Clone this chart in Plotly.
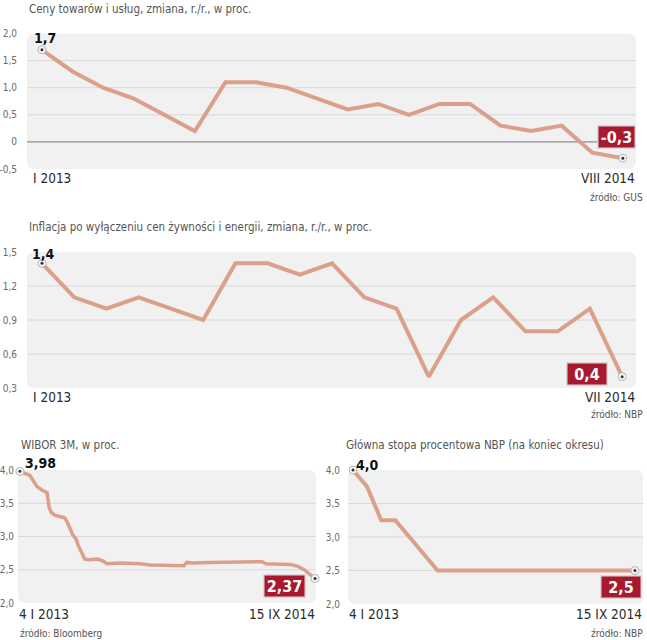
import plotly.graph_objects as go

# ---------------- data ----------------
cpi_months = ["I 2013", "II 2013", "III 2013", "IV 2013", "V 2013", "VI 2013", "VII 2013",
              "VIII 2013", "IX 2013", "X 2013", "XI 2013", "XII 2013", "I 2014", "II 2014",
              "III 2014", "IV 2014", "V 2014", "VI 2014", "VII 2014", "VIII 2014"]
cpi_values = [1.7, 1.3, 1.0, 0.8, 0.5, 0.2, 1.1, 1.1, 1.0, 0.8, 0.6, 0.7, 0.5, 0.7,
              0.7, 0.3, 0.2, 0.3, -0.2, -0.3]

core_months = cpi_months[:19]
core_values = [1.4, 1.1, 1.0, 1.1, 1.0, 0.9, 1.4, 1.4, 1.3, 1.4, 1.1, 1.0, 0.4, 0.9,
               1.1, 0.8, 0.8, 1.0, 0.4]

wibor_dates = ["2013-01-04", "2013-01-25", "2013-01-31", "2013-02-09", "2013-02-19",
               "2013-03-02", "2013-03-06", "2013-03-10", "2013-03-18", "2013-03-29",
               "2013-04-08", "2013-04-13", "2013-04-19", "2013-04-25", "2013-05-02",
               "2013-05-06", "2013-05-14", "2013-05-20", "2013-05-29", "2013-06-15",
               "2013-06-25", "2013-07-06", "2013-08-02", "2013-09-02", "2013-09-13",
               "2013-10-04", "2013-11-04", "2013-12-06", "2013-12-14", "2013-12-20",
               "2013-12-31", "2014-02-07", "2014-03-21", "2014-05-02", "2014-05-27",
               "2014-06-04", "2014-07-25", "2014-08-10", "2014-08-23", "2014-09-04",
               "2014-09-15"]
wibor_values = [3.98, 3.92, 3.85, 3.75, 3.70, 3.66, 3.45, 3.37, 3.32, 3.30,
                3.28, 3.22, 3.13, 3.02, 2.96, 2.87, 2.75, 2.66, 2.65, 2.66,
                2.64, 2.59, 2.60, 2.60, 2.59, 2.57, 2.56, 2.55, 2.56, 2.61,
                2.60, 2.61, 2.61, 2.62, 2.62, 2.59, 2.58, 2.55, 2.50, 2.43,
                2.37]

nbp_months = cpi_months + ["IX 2014"]
nbp_values = [4.0, 3.75, 3.25, 3.25, 3.0, 2.75, 2.5, 2.5, 2.5, 2.5, 2.5, 2.5, 2.5,
              2.5, 2.5, 2.5, 2.5, 2.5, 2.5, 2.5, 2.5]

cpi_ticks = [-0.5, 0, 0.5, 1.0, 1.5, 2.0]
cpi_ticktext = ["-0,5", "0", "0,5", "1,0", "1,5", "2,0"]
core_ticks = [0.3, 0.6, 0.9, 1.2, 1.5]
core_ticktext = ["0,3", "0,6", "0,9", "1,2", "1,5"]
rate_ticks = [2.0, 2.5, 3.0, 3.5, 4.0]
rate_ticktext = ["2,0", "2,5", "3,0", "3,5", "4,0"]

# ---------------- style ----------------
W, H = 647, 640
LINE = "#dba08a"
RED = "#a8192e"
BOX = "#f1f1f2"
GRID = "#d8d8d8"
NARROW = "Liberation Sans Narrow, DejaVu Sans Condensed, Arial Narrow, sans-serif"


def fx(px):
    return px / W


def fy(py):
    return 1 - py / H


def rounded(x0, x1, y0, y1, r=8):
    rx, ry = r / W, r / H
    X0, X1, Y0, Y1 = fx(x0), fx(x1), fy(y1), fy(y0)  # Y0 bottom, Y1 top
    return (f"M {X0+rx},{Y1} L {X1-rx},{Y1} Q {X1},{Y1} {X1},{Y1-ry} "
            f"L {X1},{Y0+ry} Q {X1},{Y0} {X1-rx},{Y0} L {X0+rx},{Y0} "
            f"Q {X0},{Y0} {X0},{Y0+ry} L {X0},{Y1-ry} Q {X0},{Y1} {X0+rx},{Y1} Z")


fig = go.Figure()
shapes = []
annotations = []

panels = [
    dict(n="", x=cpi_months, y=cpi_values, box=(27, 636, 33.5, 169), yr=[-0.5, 2.0],
         xr=[-0.49, 19.43], xtype="category", tv=cpi_ticks, tt=cpi_ticktext, grid=[0.5, 1.0, 1.5],
         zero=True, gap=7, lw=4),
    dict(n="2", x=core_months, y=core_values, box=(27, 636, 252, 388), yr=[0.3, 1.5],
         xr=[-0.466, 18.43], xtype="category", tv=core_ticks, tt=core_ticktext, grid=[0.6, 0.9, 1.2],
         zero=False, gap=7, lw=4),
    dict(n="3", x=wibor_dates, y=wibor_values, box=(18, 316, 470, 603), yr=[2.0, 4.0],
         xr=["2012-12-31", "2014-09-17"], xtype="date", tv=rate_ticks, tt=rate_ticktext,
         grid=[2.5, 3.0, 3.5], zero=False, gap=1, lw=3.5),
    dict(n="4", x=nbp_months, y=nbp_values, box=(348, 643, 470, 604), yr=[2.0, 4.0],
         xr=[-0.355, 20.57], xtype="category", tv=rate_ticks, tt=rate_ticktext,
         grid=[2.5, 3.0, 3.5], zero=False, gap=5, lw=4),
]

for p in panels:
    n = p["n"]
    x0, x1, y0, y1 = p["box"]
    xa, ya = "x" + n, "y" + n
    shapes.append(dict(type="path", path=rounded(x0, x1, y0, y1), xref="paper", yref="paper",
                       fillcolor=BOX, line=dict(width=0), layer="below"))
    for g in p["grid"]:
        shapes.append(dict(type="line", xref=xa + " domain", yref=ya, x0=0, x1=1, y0=g, y1=g,
                           line=dict(color=GRID, width=1), layer="below"))
    if p["zero"]:
        shapes.append(dict(type="line", xref=xa + " domain", yref=ya, x0=0, x1=1, y0=0, y1=0,
                           line=dict(color="#8c8c8c", width=1.2), layer="below"))
    fig.add_trace(go.Scatter(x=p["x"], y=p["y"], mode="lines", xaxis=xa, yaxis=ya,
                             line=dict(color=LINE, width=p["lw"]), hoverinfo="skip",
                             showlegend=False, cliponaxis=False))
    ends_x = [p["x"][0], p["x"][-1]]
    ends_y = [p["y"][0], p["y"][-1]]
    fig.add_trace(go.Scatter(x=ends_x, y=ends_y, mode="markers", xaxis=xa, yaxis=ya,
                             marker=dict(size=8, color="#f6f6f6", line=dict(color="#b5b5b5", width=1)),
                             hoverinfo="skip", showlegend=False, cliponaxis=False))
    fig.add_trace(go.Scatter(x=ends_x, y=ends_y, mode="markers", xaxis=xa, yaxis=ya,
                             marker=dict(size=3, color="#333333"),
                             hoverinfo="skip", showlegend=False, cliponaxis=False))
    xkey = "xaxis" + n
    ykey = "yaxis" + n
    fig.layout[xkey] = dict(domain=[fx(x0), fx(x1)], range=p["xr"], type=p["xtype"],
                            anchor=ya, showgrid=False, zeroline=False, showline=False,
                            showticklabels=False, ticks="", fixedrange=True, automargin=False)
    fig.layout[ykey] = dict(domain=[fy(y1), fy(y0)], range=p["yr"], anchor=xa,
                            tickvals=p["tv"], ticktext=p["tt"], showgrid=False, zeroline=False,
                            showline=False, ticks="outside", ticklen=p["gap"],
                            tickcolor="rgba(0,0,0,0)", automargin=False,
                            tickfont=dict(family=NARROW, size=10, color="#6a6a6a"),
                            fixedrange=True)


def ann(text, px, py, size=13, color="#333333", xanchor="left", bold=False, **kw):
    t = f"<b>{text}</b>" if bold else text
    annotations.append(dict(text=t, x=fx(px), y=fy(py), xref="paper", yref="paper",
                            xanchor=xanchor, yanchor="middle", showarrow=False,
                            font=dict(family=NARROW, size=size, color=color), **kw))


def redbox(text, cx, cy, w):
    ann(text, cx, cy, size=16, color="white", xanchor="center", bold=True,
        bgcolor=RED, bordercolor="#d9d9d9", borderwidth=1.5, borderpad=1,
        width=w, height=19, align="center", valign="middle")


# titles
ann("Ceny towarów i usług, zmiana, r./r., w proc.", 27, 9, size=11.5, color="#555555")
ann("Inflacja po wyłączeniu cen żywności i energii, zmiana, r./r., w proc.", 27, 227,
    size=11.5, color="#555555")
ann("WIBOR 3M, w proc.", 19, 445, size=11.5, color="#555555")
ann("Główna stopa procentowa NBP (na koniec okresu)", 344, 445, size=11.5, color="#555555")

# start values
ann("1,7", 45, 38, size=14, color="#111111", xanchor="center", bold=True)
ann("1,4", 43, 254, size=14, color="#111111", xanchor="center", bold=True)
ann("3,98", 40, 463, size=14, color="#111111", xanchor="center", bold=True)
ann("4,0", 367, 465, size=14, color="#111111", xanchor="center", bold=True)

# end values
redbox("-0,3", 616, 137, 34)
redbox("0,4", 587, 374, 37)
redbox("2,37", 284, 586, 38)
redbox("2,5", 621, 587, 37)

# period labels
ann("I 2013", 31, 178, size=13.5, color="#2a2a2a")
ann("VIII 2014", 637, 178, size=13.5, color="#2a2a2a", xanchor="right")
ann("I 2013", 31, 397, size=13.5, color="#2a2a2a")
ann("VII 2014", 637, 397, size=13.5, color="#2a2a2a", xanchor="right")
ann("4 I 2013", 17, 614, size=13.5, color="#2a2a2a")
ann("15 IX 2014", 317, 614, size=13.5, color="#2a2a2a", xanchor="right")
ann("4 I 2013", 347, 614, size=13.5, color="#2a2a2a")
ann("15 IX 2014", 644, 614, size=13.5, color="#2a2a2a", xanchor="right")

# sources
ann("źródło: GUS", 645, 197, size=10, color="#555555", xanchor="right")
ann("źródło: NBP", 645, 414, size=10, color="#555555", xanchor="right")
ann("źródło: Bloomberg", 18, 633, size=10, color="#555555")
ann("źródło: NBP", 645, 633, size=10, color="#555555", xanchor="right")

fig.update_layout(width=W, height=H, margin=dict(l=0, r=0, t=0, b=0, autoexpand=False),
                  paper_bgcolor="white", plot_bgcolor="rgba(0,0,0,0)",
                  shapes=shapes, annotations=annotations, showlegend=False,
                  hovermode=False)

fig.write_html("out.html", config={"displayModeBar": False},
               post_script="document.body.style.margin='0px';document.body.style.overflow='hidden';")
